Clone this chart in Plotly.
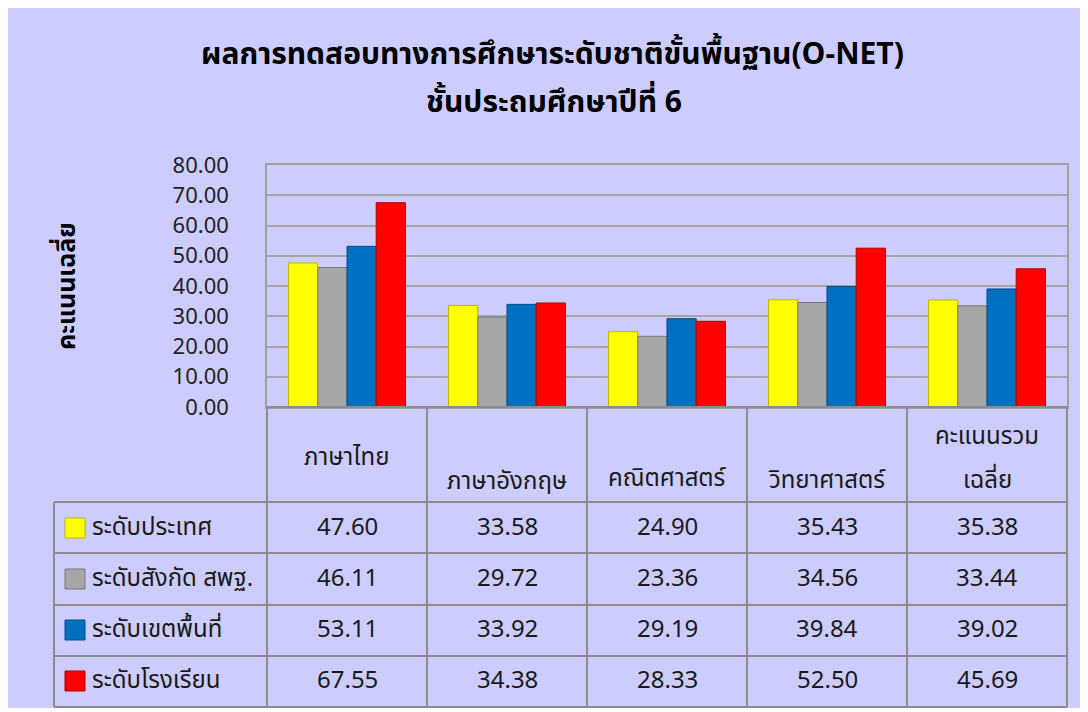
import plotly.graph_objects as go

categories = ["ภาษาไทย", "ภาษาอังกฤษ", "คณิตศาสตร์", "วิทยาศาสตร์", "คะแนนรวมเฉลี่ย"]
header_lines = [["ภาษาไทย"], ["ภาษาอังกฤษ"], ["คณิตศาสตร์"], ["วิทยาศาสตร์"], ["คะแนนรวม", "เฉลี่ย"]]
series_names = ["ระดับประเทศ", "ระดับสังกัด สพฐ.", "ระดับเขตพื้นที่", "ระดับโรงเรียน"]
national = [47.60, 33.58, 24.90, 35.43, 35.38]
obec = [46.11, 29.72, 23.36, 34.56, 33.44]
district = [53.11, 33.92, 29.19, 39.84, 39.02]
school = [67.55, 34.38, 28.33, 52.50, 45.69]
series_values = [national, obec, district, school]
colors = ["#FFFF00", "#A6A6A6", "#0070C0", "#FF0000"]
edge_colors = ["#B8B800", "#777777", "#004C86", "#B00000"]

title_line1 = "ผลการทดสอบทางการศึกษาระดับชาติขั้นพื้นฐาน(O-NET)"
title_line2 = "ชั้นประถมศึกษาปีที่ 6"
y_title = "คะแนนเฉลี่ย"
y_ticks = [0, 10, 20, 30, 40, 50, 60, 70, 80]

FONT = "Tahoma, 'Noto Sans Thai', 'Noto Sans', sans-serif"
OFF = 8  # page body margin
W, H = 1088 - OFF, 712 - OFF
# plot area in page pixels
L, R, T, B = 267, 1067, 165, 407


def px_x(p):
    return (p - L) / (R - L)


def px_y(p):
    return (B - p) / (B - T)


fig = go.Figure()
for name, vals, c, ec in zip(series_names, series_values, colors, edge_colors):
    fig.add_trace(go.Bar(
        name=name, x=categories, y=vals,
        marker=dict(color=c, line=dict(color=ec, width=1)),
        hoverinfo="name+y",
    ))

shapes = []
shapes.append(dict(type="rect", xref="paper", yref="paper",
                   x0=px_x(5), x1=px_x(1082), y0=px_y(708), y1=px_y(5),
                   fillcolor="#CCCCFF", line=dict(width=0), layer="below"))

line_style = dict(color="#8C8C8C", width=2)
for yy in [502, 553, 605, 656, 707]:
    shapes.append(dict(type="line", xref="paper", yref="paper",
                       x0=px_x(54), x1=px_x(1067), y0=px_y(yy), y1=px_y(yy), line=line_style))
shapes.append(dict(type="line", xref="paper", yref="paper",
                   x0=px_x(267), x1=px_x(1067), y0=px_y(407), y1=px_y(407), line=line_style))
for xx in [267, 427, 587, 747, 907, 1067]:
    shapes.append(dict(type="line", xref="paper", yref="paper",
                       x0=px_x(xx), x1=px_x(xx), y0=px_y(407), y1=px_y(707), line=line_style))
shapes.append(dict(type="line", xref="paper", yref="paper",
                   x0=px_x(54), x1=px_x(54), y0=px_y(502), y1=px_y(707), line=line_style))

row_centers = [528, 579, 630, 681]
TXT = "#1A1A1A"
annotations = []
for i, (name, vals, c, ec) in enumerate(zip(series_names, series_values, colors, edge_colors)):
    yc = row_centers[i]
    shapes.append(dict(type="rect", xref="paper", yref="paper",
                       x0=px_x(65), x1=px_x(85), y0=px_y(yc + 10), y1=px_y(yc - 10),
                       fillcolor=c, line=dict(color=ec, width=1)))
    annotations.append(dict(xref="paper", yref="paper", x=px_x(90), y=px_y(yc),
                            text=name, showarrow=False, xanchor="left", yanchor="middle",
                            font=dict(family=FONT, size=24, color=TXT)))
    for cat, v in zip(categories, vals):
        annotations.append(dict(xref="x", yref="paper", x=cat, y=px_y(yc),
                                text=f"{v:.2f}", showarrow=False, xanchor="center", yanchor="middle",
                                font=dict(family=FONT, size=24, color=TXT)))

header_y = [[458], [482], [479], [481], [437, 481]]
for cat, lines, ys in zip(categories, header_lines, header_y):
    for lab, hy in zip(lines, ys):
        annotations.append(dict(xref="x", yref="paper", x=cat, y=px_y(hy),
                                text=lab, showarrow=False, xanchor="center", yanchor="middle",
                                font=dict(family=FONT, size=24, color=TXT)))

annotations.append(dict(xref="paper", yref="paper", x=px_x(67), y=px_y(286),
                        text=f"<b>{y_title}</b>", textangle=-90, showarrow=False,
                        xanchor="center", yanchor="middle",
                        font=dict(family=FONT, size=25, color="#000000")))
annotations.append(dict(xref="paper", yref="paper", x=px_x(552), y=px_y(55),
                        text=f"<b>{title_line1}</b>", showarrow=False,
                        xanchor="center", yanchor="middle",
                        font=dict(family=FONT, size=30, color="#000000")))
annotations.append(dict(xref="paper", yref="paper", x=px_x(554), y=px_y(103),
                        text=f"<b>{title_line2}</b>", showarrow=False,
                        xanchor="center", yanchor="middle",
                        font=dict(family=FONT, size=30, color="#000000")))

fig.update_layout(
    width=W, height=H,
    margin=dict(l=L - OFF, r=W - (R - OFF), t=T - OFF, b=H - (B - OFF), pad=0),
    paper_bgcolor="white", plot_bgcolor="white",
    barmode="group", bargap=0.27, bargroupgap=0,
    showlegend=False,
    shapes=shapes, annotations=annotations,
    font=dict(family=FONT),
)
fig.update_xaxes(showticklabels=False, showline=True, mirror=True,
                 linecolor="#A0A0A0", linewidth=1.5, showgrid=False, ticks="")
fig.update_yaxes(range=[0, 80], tickvals=y_ticks, tickformat=".2f",
                 showline=True, mirror=True, linecolor="#A0A0A0", linewidth=1.5,
                 gridcolor="#A6A6A6", gridwidth=1.5, ticks="", zeroline=False,
                 ticklabelstandoff=32,
                 tickfont=dict(family=FONT, size=22, color="#222222"))

fig.write_html("out.html")
